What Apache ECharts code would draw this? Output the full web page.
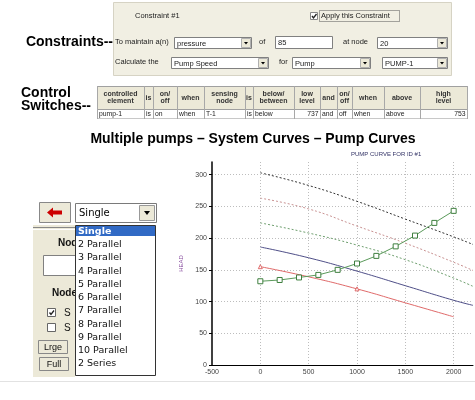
<!DOCTYPE html>
<html>
<head>
<meta charset="utf-8">
<script src="https://cdn.jsdelivr.net/npm/echarts@6/dist/echarts.min.js"></script>
<style>
  html, body { margin: 0; padding: 0; background: #fff; }
  #chart { width: 475px; height: 400px; }
</style>
</head>
<body>
<div id="chart"></div>
<script>
// pump curves (flow -> head)
const pumpFlow = [0, 500, 1000, 1500, 2000, 2200];
const headBlack = [303, 283, 258, 230, 202, 190];
const headPink = [263, 246, 219, 192, 162, 149];
const headGreen = [224, 208, 189, 166, 137, 124];
const headBlue = [186, 169, 148, 125, 102, 94];

const redFlow = [0, 500, 1000, 1500, 2000];
const headRed = [155, 139, 120, 98, 76];
const redMarks = [0, 1000];

// system curve
const sysFlow = [0, 200, 400, 600, 800, 1000, 1200, 1400, 1600, 1800, 2000];
const sysHead = [132, 134, 138, 142, 150, 160, 172, 187, 204, 224, 243];

// UI texts
const pumpModes = ['Single', '2 Parallel', '3 Parallel', '4 Parallel', '5 Parallel', '6 Parallel',
  '7 Parallel', '8 Parallel', '9 Parallel', '10 Parallel', '2 Series'];
const switchHeaders = ['controlled\nelement', 'is', 'on/\noff', 'when', 'sensing\nnode', 'is',
  'below/\nbetween', 'low\nlevel', 'and', 'on/\noff', 'when', 'above', 'high\nlevel'];
const switchRow = ['pump-1', 'is', 'on', 'when', 'T-1', 'is', 'below', '737', 'and', 'off', 'when', 'above', '753'];
const switchCols = [97, 144, 153, 177, 204, 245, 253, 294, 320, 337, 352, 384, 420, 467];

const chart = echarts.init(document.getElementById('chart'));

const F = "'Liberation Sans', Arial, sans-serif";
const UI = '7.5px ' + F;
const g = [];
const rect = (x, y, w, h, fill, stroke, extra) => g.push({
  type: 'rect', shape: { x, y, width: w, height: h },
  style: Object.assign({ fill: fill || 'none', stroke: stroke || null, lineWidth: 1 }, extra || {})
});
const text = (x, y, s, font, fill, align) => g.push({
  type: 'text',
  style: { x, y, text: s, font: font || UI, fill: fill || '#222', textAlign: align || 'left', textVerticalAlign: 'middle' }
});
const line = (x1, y1, x2, y2, stroke) => g.push({
  type: 'line', shape: { x1, y1, x2, y2 }, style: { stroke: stroke || '#999', lineWidth: 1 }
});
const poly = (points, fill) => g.push({ type: 'polygon', shape: { points }, style: { fill } });
const check = (x, y) => g.push({
  type: 'polyline', shape: { points: [[x + 1.5, y + 3.5], [x + 3, y + 5.5], [x + 6, y + 1.5]] },
  style: { stroke: '#222', lineWidth: 1.3, fill: null }
});
const combo = (x, y, w, h, label) => {
  rect(x + 0.5, y + 0.5, w, h, '#fff', '#808080');
  rect(x + w - 9.5, y + 1.5, 9, h - 2, '#ece9d8', '#b0b0b0');
  const cx = x + w - 5, cy = y + h / 2 + 0.5;
  poly([[cx - 2, cy - 1], [cx + 2, cy - 1], [cx, cy + 1.5]], '#000');
  text(x + 3, y + h / 2 + 1, label);
};

// --- constraint panel ---
rect(113.5, 2.5, 338, 73, '#f1efe3', '#d6d3c4');
text(135, 16, 'Constraint #1');
rect(310.5, 12.5, 7, 7, '#fff', '#888');
check(310.5, 12.5);
rect(319.5, 10.5, 80, 11, null, '#555', { lineDash: [1, 1] });
text(321, 16, 'Apply this Constraint');
text(113, 42, 'Constraints--', 'bold 14px ' + F, '#000', 'right');
text(115, 42, 'To maintain a(n)');
combo(174, 37, 77, 11, 'pressure');
text(259, 42, 'of');
rect(275.5, 36.5, 57, 12, '#fff', '#808080');
text(278, 42.5, '85');
text(343, 42, 'at node');
combo(377, 37, 70, 11, '20');
text(115, 62, 'Calculate the');
combo(171, 57, 97, 11, 'Pump Speed');
text(279, 62, 'for');
combo(292, 57, 78, 11, 'Pump');
combo(382, 57, 65, 11, 'PUMP-1');

// --- control switches table ---
text(21, 93, 'Control', 'bold 14px ' + F, '#000');
text(21, 106, 'Switches--', 'bold 14px ' + F, '#000');
const tL = switchCols[0], tR = switchCols[switchCols.length - 1];
rect(tL + 0.5, 86.5, tR - tL, 23, '#ece9d8', null);
rect(tL + 0.5, 109.5, tR - tL, 9, '#fff', null);
line(tL, 86.5, tR, 86.5, '#a0a0a0');
line(tL, 109.5, tR, 109.5, '#a0a0a0');
line(tL, 118.5, tR, 118.5, '#c8c8c8');
switchCols.forEach(c => line(c + 0.5, 86, c + 0.5, 119, '#a8a8a8'));
switchHeaders.forEach((h, i) => {
  const cx = (switchCols[i] + switchCols[i + 1]) / 2;
  text(cx, 98, h, 'bold 7px ' + F, '#333', 'center');
});
switchRow.forEach((s, i) => {
  const right = s === '737' || s === '753';
  text(right ? switchCols[i + 1] - 1.5 : switchCols[i] + 2, 114.5, s, '6.8px ' + F, '#222', right ? 'right' : 'left');
});

// --- title ---
text(253, 139, 'Multiple pumps \u2013 System Curves \u2013 Pump Curves', 'bold 14px ' + F, '#000', 'center');

// --- left control panel ---
rect(33, 225, 42, 152, '#ece9d8', null);
line(33, 227.5, 75, 227.5, '#888');
line(33, 229.5, 75, 229.5, '#fff');
text(58, 243, 'Node', 'bold 10px ' + F, '#111');
rect(43.5, 255.5, 40, 20, '#fff', '#808080');
text(52, 293, 'Node', 'bold 10px ' + F, '#111');
rect(47.5, 308.5, 8, 8, '#fff', '#666');
check(48, 309);
text(64, 313, 'S', '10px ' + F, '#111');
rect(47.5, 323.5, 8, 8, '#fff', '#666');
text(64, 328, 'S', '10px ' + F, '#111');
rect(38.5, 340.5, 29, 13, '#ece9d8', '#888');
text(53, 347.5, 'Lrge', '9px ' + F, '#111', 'center');
rect(39.5, 357.5, 29, 13, '#ece9d8', '#888');
text(54, 364.5, 'Full', '9px ' + F, '#111', 'center');

// red back-arrow button
rect(39.5, 202.5, 31, 20, '#ece9d8', '#888');
poly([[47, 212.5], [53, 207.5], [53, 210.5], [62, 210.5], [62, 214.5], [53, 214.5], [53, 217.5]], '#cc0000');

// pump mode drop-down
rect(75.5, 203.5, 81, 19, '#fff', '#7a7a7a');
rect(139.5, 205.5, 15, 15, '#ece9d8', '#999');
poly([[144, 211], [150, 211], [147, 215]], '#000');
text(79, 213, pumpModes[0], "10px 'DejaVu Sans', sans-serif", '#000');
rect(75.5, 225.5, 80, 150, '#fff', '#333');
rect(76, 226, 79, 10, '#316ac5', null);
pumpModes.forEach((m, i) => {
  text(78, 231.5 + i * 13.25, m, (i === 0 ? 'bold ' : '') + "9.5px 'DejaVu Sans', sans-serif", i === 0 ? '#fff' : '#111');
});

line(0, 381.5, 475, 381.5, '#e2e2e2');

const pair = (xs, ys) => xs.map((q, i) => [q, ys[i]]);
const dotted = (ys, color) => ({
  type: 'line', data: pair(pumpFlow, ys), smooth: true, symbol: 'none',
  lineStyle: { color, width: 1, type: [2, 2] }
});

const option = {
  animation: false,
  backgroundColor: '#fff',
  title: {
    text: 'PUMP CURVE FOR ID #1', left: 346, top: 146,
    textStyle: { fontSize: 6, color: '#333366', fontWeight: 'normal', fontFamily: F }
  },
  grid: { left: 212, top: 162, width: 261, height: 203 },
  xAxis: {
    type: 'value', min: -500, max: 2200, interval: 500,
    axisLine: { onZero: false, lineStyle: { color: '#000', width: 1 } },
    axisTick: { show: false },
    axisLabel: { fontSize: 7, color: '#444', margin: 4, showMaxLabel: false, fontFamily: F, formatter: v => String(v) },
    splitLine: { showMinLine: false, showMaxLine: false, lineStyle: { color: '#bdbdbd', type: [1, 2] } }
  },
  yAxis: {
    type: 'value', min: 0, max: 320, interval: 50,
    name: 'HEAD', nameLocation: 'middle', nameGap: 19,
    nameTextStyle: { color: '#8a50a0', fontSize: 6, fontFamily: F },
    axisLine: { show: true, onZero: false, lineStyle: { color: '#000', width: 1.5 } },
    axisTick: { show: true, length: 3, lineStyle: { color: '#000' } },
    axisLabel: { fontSize: 7, color: '#444', margin: 5, showMaxLabel: false, fontFamily: F },
    splitLine: { showMinLine: false, showMaxLine: false, lineStyle: { color: '#bdbdbd', type: [1, 2] } }
  },
  series: [
    dotted(headBlack, '#333'),
    dotted(headPink, '#c99292'),
    dotted(headGreen, '#6f9f6f'),
    {
      type: 'line', data: pair(pumpFlow, headBlue), smooth: true, symbol: 'none',
      lineStyle: { color: '#4f4f88', width: 1 }
    },
    {
      type: 'line', smooth: true,
      data: redFlow.map((q, i) => ({ value: [q, headRed[i]], symbol: redMarks.includes(q) ? 'triangle' : 'none' })),
      symbolSize: 4, itemStyle: { color: '#fff', borderColor: '#e06a6a', borderWidth: 1 },
      lineStyle: { color: '#e06a6a', width: 1 }
    },
    {
      type: 'line', data: pair(sysFlow, sysHead), symbol: 'rect', symbolSize: 5,
      itemStyle: { color: '#fff', borderColor: '#3f7f3f', borderWidth: 1 },
      lineStyle: { color: '#5a9a5a', width: 1 }
    }
  ],
  graphic: g
};

chart.setOption(option);
window.addEventListener('resize', () => chart.resize());
</script>
</body>
</html>
